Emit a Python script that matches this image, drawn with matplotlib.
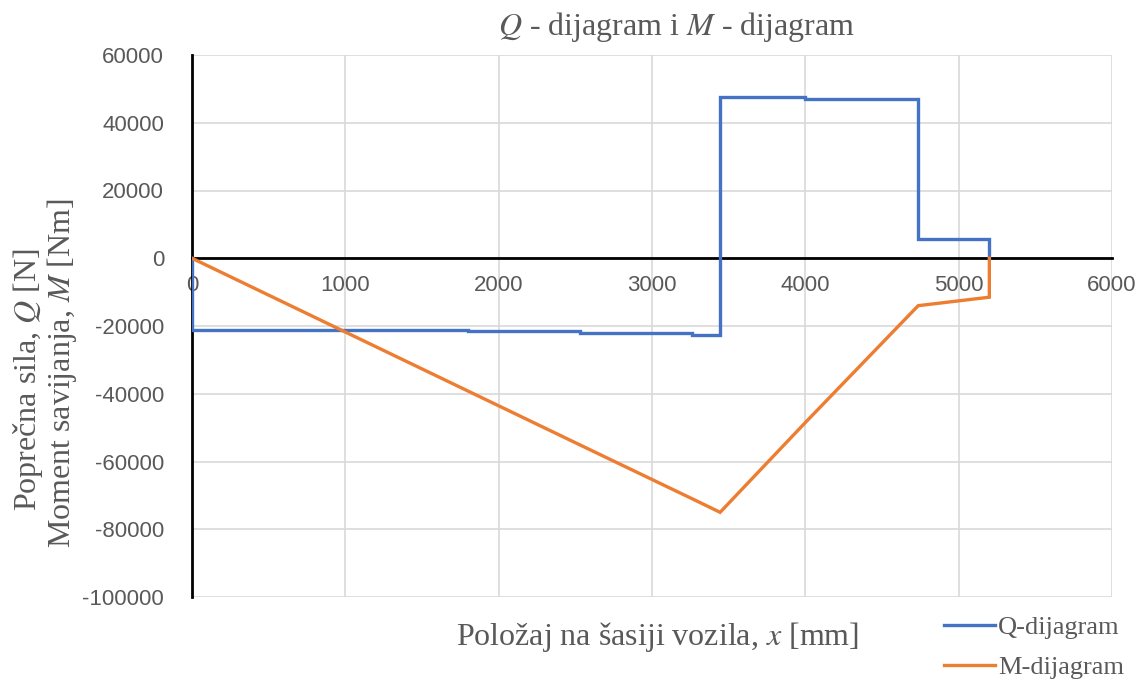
import matplotlib
matplotlib.use("Agg")
import matplotlib.pyplot as plt
from matplotlib.lines import Line2D

plt.rcParams["axes.unicode_minus"] = False

# Shear force Q [N] along the chassis (step diagram)
q_x = [0, 0, 1800, 1800, 2530, 2530, 3262, 3262, 3444, 3444, 4000, 4000, 4736, 4736, 5200, 5200]
q_y = [0, -21200, -21200, -21600, -21600, -22100, -22100, -22600, -22600, 47600, 47600, 47150, 47150, 5600, 5600, 0]

# Bending moment M [Nm] along the chassis
m_x = [0, 1800, 2530, 3262, 3444, 4000, 4736, 5200, 5200]
m_y = [0, -39200, -55100, -71000, -75000, -48500, -14000, -11500, 0]

x_ticks = [0, 1000, 2000, 3000, 4000, 5000, 6000]
y_ticks = [60000, 40000, 20000, 0, -20000, -40000, -60000, -80000, -100000]

BLUE = "#4472C4"
ORANGE = "#ED7D31"
GRID = "#d9d9d9"
TICK_COLOR = "#595959"
SERIF = "Liberation Serif"
SANS = "Liberation Sans"

fig = plt.figure(figsize=(11.38, 6.82), dpi=100)
W, H = 1138, 682
ax = fig.add_axes([192 / W, 1 - 597 / H, (1112 - 192) / W, (597 - 55) / H])

ax.plot(q_x, q_y, color=BLUE, lw=2.4, solid_joinstyle="miter", zorder=3)
ax.plot(m_x, m_y, color=ORANGE, lw=2.4, solid_joinstyle="miter", zorder=3)

ax.set_xlim(0, 6000)
ax.set_ylim(-100000, 60000)
ax.set_xticks(x_ticks)
ax.set_yticks(y_ticks)
ax.grid(True, color=GRID, lw=1.2, zorder=0)
ax.set_axisbelow(True)

for s in ("top", "right"):
    ax.spines[s].set_visible(False)
ax.spines["bottom"].set_position(("data", 0))
ax.spines["bottom"].set_color("black")
ax.spines["bottom"].set_linewidth(2)
ax.spines["bottom"].set_zorder(2)
ax.spines["left"].set_color("black")
ax.spines["left"].set_linewidth(2)

ax.tick_params(axis="both", length=0, labelsize=16, labelcolor=TICK_COLOR)
ax.tick_params(axis="x", pad=12)
ax.tick_params(axis="y", pad=20)
for lab in ax.get_xticklabels() + ax.get_yticklabels():
    lab.set_fontfamily(SANS)

TXT = dict(color=TICK_COLOR, fontfamily=SERIF, math_fontfamily="stix", va="center", ha="center")
fig.text(676 / W, 1 - 27 / H, r"$Q$ - dijagram i $M$ - dijagram", fontsize=23, **TXT)
fig.text(658 / W, 1 - 637 / H, r"Položaj na šasiji vozila, $x$ [mm]", fontsize=23, **TXT)
fig.text(28 / W, 1 - 380 / H, r"Poprečna sila, $Q$ [N]", rotation=90, fontsize=23, **TXT)
fig.text(62 / W, 1 - 373 / H, r"Moment savijanja, $M$ [Nm]", rotation=90, fontsize=23, **TXT)

handles = [Line2D([], [], color=BLUE, lw=2.4), Line2D([], [], color=ORANGE, lw=2.4)]
fig.legend(handles, ["Q-dijagram", "M-dijagram"], loc="upper left",
           bbox_to_anchor=(944 / W, 1 - 616 / H), frameon=False,
           prop={"family": SERIF, "size": 19}, labelcolor=TICK_COLOR,
           handlelength=1.95, handletextpad=0.1, labelspacing=0.6,
           borderaxespad=0, borderpad=0)

fig.savefig("out.png", dpi=100)
